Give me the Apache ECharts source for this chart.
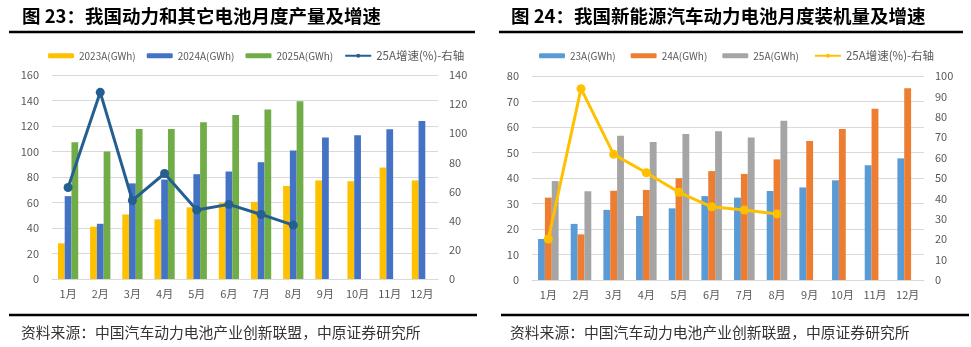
<!DOCTYPE html>
<html><head><meta charset="utf-8">
<script src="https://cdn.jsdelivr.net/npm/echarts@6/dist/echarts.min.js"></script>
<style>
html,body{margin:0;padding:0;background:#fff;}
#c1{position:absolute;left:0;top:0;width:486px;height:347px;}
#c2{position:absolute;left:486px;top:0;width:485px;height:347px;}
</style></head>
<body>
<div id="c1"></div><div id="c2"></div>
<script>
var months = ['1月','2月','3月','4月','5月','6月','7月','8月','9月','10月','11月','12月'];
// Chart 23: production (GWh) and growth (%)
var prod2023 = [28, 41, 50.6, 46.8, 56.2, 59.8, 60.5, 73, 77.3, 76.7, 87.4, 77.3];
var prod2024 = [65, 43.3, 75, 78, 82.2, 84.3, 91.6, 100.7, 110.9, 112.8, 117.5, 124];
var prod2025 = [107.3, 100, 117.7, 117.7, 123, 128.7, 133, 139.4, null, null, null, null];
var prodGrowth25 = [62.8, 128.1, 53.9, 72.4, 47.4, 51.2, 44.3, 37, null, null, null, null];
// Chart 24: installed (GWh) and growth (%)
var inst23 = [16.1, 22, 27.5, 25.1, 28.1, 32.9, 32.3, 34.9, 36.3, 39.1, 45, 47.7];
var inst24 = [32.3, 17.9, 35, 35.3, 39.9, 42.7, 41.6, 47.3, 54.5, 59.2, 67.2, 75.2];
var inst25 = [38.8, 34.8, 56.6, 54.1, 57.3, 58.3, 55.9, 62.5, null, null, null, null];
var instGrowth25 = [20.1, 93.8, 61.6, 52.6, 43, 35.9, 34.3, 32.4, null, null, null, null];

var FONT = '"Noto Sans CJK SC", "Noto Sans", sans-serif';
var LBL = '#595959';
var GRIDC = '#D9D9D9';

function build(cfg){
  var series = [];
  cfg.bars.forEach(function(b){
    series.push({name:b.name, type:'bar', data:b.data, barGap:'0%', barCategoryGap:'37%',
      itemStyle:{color:b.color}, yAxisIndex:0, animation:false});
  });
  series.push({name:cfg.line.name, type:'line', data:cfg.line.data, yAxisIndex:1,
    symbol:'circle', symbolSize:9, lineStyle:{color:cfg.line.color, width:3},
    itemStyle:{color:cfg.line.color}, connectNulls:false, animation:false});
  var legendData = cfg.bars.map(function(b){return {name:b.name, textStyle:{fontSize:10}};});
  legendData.push({name:cfg.line.name, textStyle:{fontSize:11.5}});
  return {
    animation:false,
    textStyle:{fontFamily:FONT},
    legend:{left:cfg.legendLeft, top:45, itemWidth:26, itemHeight:5, itemGap:cfg.legendGap,
      textStyle:{color:LBL, fontSize:10, fontFamily:FONT},
      data:legendData},
    grid:{left:cfg.grid[0], right:cfg.grid[1], top:cfg.grid[2], bottom:cfg.grid[3], containLabel:false},
    xAxis:{type:'category', data:months, axisTick:{show:false},
      axisLine:{lineStyle:{color:GRIDC, width:1}},
      axisLabel:{color:LBL, fontSize:11, margin:9, fontFamily:FONT}},
    yAxis:[
      {type:'value', min:0, max:cfg.lmax, interval:cfg.lint, axisLine:{show:false}, axisTick:{show:false},
        splitLine:{lineStyle:{color:GRIDC, width:1}},
        axisLabel:{color:LBL, fontSize:11, margin:13, fontFamily:FONT}},
      {type:'value', min:0, max:cfg.rmax, interval:cfg.rint, axisLine:{show:false}, axisTick:{show:false},
        splitLine:{show:false},
        axisLabel:{color:LBL, fontSize:11, margin:11, fontFamily:FONT}}
    ],
    graphic:[
      {type:'text', left:cfg.titleX, top:7, style:{text:cfg.title, fill:'#000', font:'bold 18.5px ' + FONT}},
      {type:'line', shape:{x1:cfg.topLine[0], y1:32, x2:cfg.topLine[1], y2:32}, style:{stroke:'#000', lineWidth:2.5}},
      {type:'line', shape:{x1:cfg.botLine[0], y1:315, x2:cfg.botLine[1], y2:315}, style:{stroke:'#000', lineWidth:2.5}},
      {type:'text', left:cfg.srcX, top:325, style:{text:'资料来源：中国汽车动力电池产业创新联盟，中原证券研究所', fill:'#333', font:'14.8px ' + FONT}}
    ],
    series:series
  };
}

var c1 = echarts.init(document.getElementById('c1'), null, {renderer:'canvas'});
c1.setOption(build({
  title:'图 23：我国动力和其它电池月度产量及增速', titleX:22,
  topLine:[9,475], botLine:[9,477], srcX:21, legendLeft:43, legendGap:11,
  grid:[52,48,75,68], lmax:160, lint:20, rmax:140, rint:20,
  bars:[{name:'2023A(GWh)', data:prod2023, color:'#FFC000'},
        {name:'2024A(GWh)', data:prod2024, color:'#4472C4'},
        {name:'2025A(GWh)', data:prod2025, color:'#70AD47'}],
  line:{name:'25A增速(%)-右轴', data:prodGrowth25, color:'#255E91'}
}));

var c2 = echarts.init(document.getElementById('c2'), null, {renderer:'canvas'});
c2.setOption(build({
  title:'图 24：我国新能源汽车动力电池月度装机量及增速', titleX:25,
  topLine:[13,477], botLine:[15,483], srcX:24, legendLeft:48, legendGap:15,
  grid:[46,47,76,67], lmax:80, lint:10, rmax:100, rint:10,
  bars:[{name:'23A(GWh)', data:inst23, color:'#5B9BD5'},
        {name:'24A(GWh)', data:inst24, color:'#ED7D31'},
        {name:'25A(GWh)', data:inst25, color:'#A5A5A5'}],
  line:{name:'25A增速(%)-右轴', data:instGrowth25, color:'#FFC000'}
}));
</script>
</body></html>
